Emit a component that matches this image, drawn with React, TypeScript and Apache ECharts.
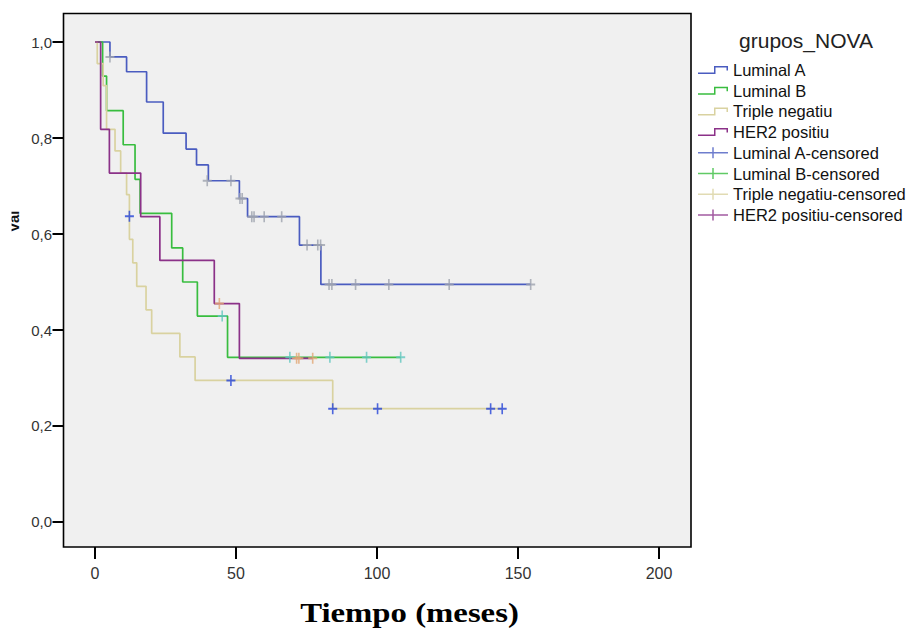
import React, { useEffect, useRef } from "react";
import * as echarts from "echarts";

// ---- Data ----
const GROUPS = ["Luminal A", "Luminal B", "Triple negatiu", "HER2 positiu"];
const LINE_COLORS = ["#4a5cc0", "#38bd3f", "#d9d2a0", "#8b3188"];
const CENSOR_COLORS = ["#9ea3ae", "#62c7bf", "#2443d8", "#e2a876"];

// Kaplan-Meier steps: [time (meses), survival]
const LUMINAL_A_STEPS = [
  [0, 1], [5.3, 0.969], [11.2, 0.938], [18.3, 0.875], [24.2, 0.81], [32.3, 0.777],
  [36, 0.744], [40.2, 0.711], [51.2, 0.674], [54.1, 0.636], [72.5, 0.577],
  [80.1, 0.495], [154.5, 0.495],
];
const LUMINAL_B_STEPS = [
  [0, 1], [2.7, 0.929], [4.1, 0.857], [10, 0.786], [14.2, 0.714], [16, 0.643],
  [27.2, 0.571], [31.1, 0.5], [36.3, 0.429], [47, 0.343], [108.4, 0.343],
];
const TRIPLE_NEG_STEPS = [
  [0, 1], [0.8, 0.955], [2.9, 0.909], [4.1, 0.818], [7.1, 0.773], [9.1, 0.727],
  [11.2, 0.682], [12.2, 0.589], [13.4, 0.54], [14.8, 0.491], [18.1, 0.442],
  [20.1, 0.393], [30.1, 0.344], [35.5, 0.295], [84.3, 0.236], [144.4, 0.236],
];
const HER2_STEPS = [
  [0, 1], [2, 0.818], [5.1, 0.727], [16.2, 0.636], [23, 0.545], [42.3, 0.455],
  [51.2, 0.341], [77.2, 0.341],
];

// Censored observations: [time, survival]
const LUMINAL_A_CENSORED = [
  [5.3, 0.969], [39.8, 0.711], [48.2, 0.711], [51.4, 0.674], [52.2, 0.674],
  [55.6, 0.636], [56.4, 0.636], [60, 0.636], [66.2, 0.636], [75.2, 0.577],
  [79, 0.577], [80, 0.577], [83, 0.495], [84, 0.495], [92.4, 0.495],
  [104.2, 0.495], [125.6, 0.495], [154.5, 0.495],
];
const LUMINAL_B_CENSORED = [
  [45.1, 0.429], [69.1, 0.343], [83.3, 0.343], [96.3, 0.343], [108.4, 0.343],
];
const TRIPLE_NEG_CENSORED = [
  [12.2, 0.637], [48.2, 0.295], [84.3, 0.236], [100.2, 0.236], [140.3, 0.236], [144.4, 0.236],
];
const HER2_CENSORED = [[44.1, 0.455], [71.5, 0.341], [72.3, 0.341], [77.2, 0.341]];

const STEPS = [LUMINAL_A_STEPS, LUMINAL_B_STEPS, TRIPLE_NEG_STEPS, HER2_STEPS];
const CENSORED = [LUMINAL_A_CENSORED, LUMINAL_B_CENSORED, TRIPLE_NEG_CENSORED, HER2_CENSORED];

// Axis extents (plot frame) and tick values
const X_RANGE = [-11.17, 211.35];
const Y_RANGE = [-0.0521, 1.0594];
const X_TICKS = [0, 50, 100, 150, 200];
const Y_TICKS = [0, 0.2, 0.4, 0.6, 0.8, 1.0];

const LEGEND_TITLE = "grupos_NOVA";
const X_TITLE = "Tiempo (meses)";
const Y_TITLE = "val";

const STEP_ICON =
  "path://M0,6.5L16,6.5L16,0L30,0L30,4.5L28.5,4.5L28.5,1.5L17.5,1.5L17.5,8L0,8Z";
const CROSS_ICON =
  "path://M0,4.75L14.25,4.75L14.25,0L15.75,0L15.75,4.75L30,4.75L30,6.25L15.75,6.25L15.75,11L14.25,11L14.25,6.25L0,6.25Z";
const CENSOR_SYMBOL =
  "path://M0,4.1L4.1,4.1L4.1,0L5.9,0L5.9,4.1L10,4.1L10,5.9L5.9,5.9L5.9,10L4.1,10L4.1,5.9L0,5.9Z";

const SANS = "'Liberation Sans', Arial, Helvetica, sans-serif";
const SERIF = "'Liberation Serif', 'Times New Roman', serif";

export default function App() {
  const ref = useRef<HTMLDivElement>(null);

  useEffect(() => {
    if (!ref.current) return;
    const chart = echarts.init(ref.current, null, { renderer: "svg" });

    const lineSeries = GROUPS.map((g, i) => ({
      name: g,
      type: "line",
      step: "end",
      data: STEPS[i],
      showSymbol: false,
      symbol: "none",
      lineStyle: { color: LINE_COLORS[i], width: 1.7 },
      itemStyle: { color: LINE_COLORS[i] },
      z: 2,
    }));
    const censorSeries = GROUPS.map((g, i) => ({
      name: g + "-censored",
      type: "scatter",
      data: CENSORED[i],
      symbol: CENSOR_SYMBOL,
      symbolSize: [9, 11],
      itemStyle: { color: CENSOR_COLORS[i] },
      z: 3,
    }));

    const legendData = [
      ...GROUPS.map((g, i) => ({
        name: g,
        icon: STEP_ICON,
        itemStyle: { color: LINE_COLORS[i], borderWidth: 0 },
      })),
      ...GROUPS.map((g, i) => ({
        name: g + "-censored",
        icon: CROSS_ICON,
        itemStyle: { color: LINE_COLORS[i], borderWidth: 0 },
      })),
    ];

    chart.setOption({
      animation: false,
      backgroundColor: "#ffffff",
      title: {
        text: LEGEND_TITLE,
        left: 806,
        top: 30,
        padding: 0,
        textAlign: "center",
        textStyle: { fontFamily: SANS, fontSize: 21, fontWeight: "normal", color: "#222" },
      },
      legend: {
        orient: "vertical",
        left: 698,
        top: 61.5,
        padding: 0,
        itemWidth: 30,
        itemHeight: 12,
        itemGap: 3.7,
        selectedMode: false,
        textStyle: { fontFamily: SANS, fontSize: 16.5, color: "#111", lineHeight: 17 },
        data: legendData,
      },
      grid: {
        left: 63.5,
        top: 13.5,
        width: 627.5,
        height: 533.5,
        show: true,
        backgroundColor: "#f0f0f0",
        borderColor: "#000",
        borderWidth: 1.6,
        containLabel: false,
      },
      xAxis: {
        type: "value",
        min: X_RANGE[0],
        max: X_RANGE[1],
        axisLine: { show: false, onZero: false },
        axisTick: {
          show: true,
          length: 12,
          customValues: X_TICKS,
          lineStyle: { color: "#000", width: 2 },
        },
        axisLabel: {
          margin: 18,
          customValues: X_TICKS,
          fontFamily: SANS,
          fontSize: 16,
          color: "#333",
        },
        splitLine: { show: false },
      },
      yAxis: {
        type: "value",
        min: Y_RANGE[0],
        max: Y_RANGE[1],
        axisLine: { show: false, onZero: false },
        axisTick: {
          show: true,
          length: 11,
          customValues: Y_TICKS,
          lineStyle: { color: "#000", width: 2 },
        },
        axisLabel: {
          margin: 11.5,
          customValues: Y_TICKS,
          fontFamily: SANS,
          fontSize: 15,
          color: "#333",
          formatter: (v: number) => v.toFixed(1).replace(".", ","),
        },
        splitLine: { show: false },
      },
      graphic: [
        {
          type: "text",
          x: 409.5,
          y: 613,
          scaleX: 1.17,
          style: {
            text: X_TITLE,
            font: "bold 28px " + SERIF,
            fill: "#000",
            align: "center",
            verticalAlign: "middle",
          },
        },
        {
          type: "text",
          x: 20.5,
          y: 221,
          rotation: Math.PI / 2,
          style: {
            text: Y_TITLE,
            font: "bold 15px " + SANS,
            fill: "#111",
            align: "center",
            verticalAlign: "bottom",
          },
        },
        {
          type: "rect",
          z: 10,
          silent: true,
          shape: { x: 0, y: 195, width: 11.5, height: 50 },
          style: { fill: "#ffffff" },
        },
      ],
      series: [...lineSeries, ...censorSeries],
    });

    return () => chart.dispose();
  }, []);

  return (
    <div
      ref={ref}
      style={{ position: "fixed", left: 0, top: 0, width: 911, height: 634, background: "#fff" }}
    />
  );
}
